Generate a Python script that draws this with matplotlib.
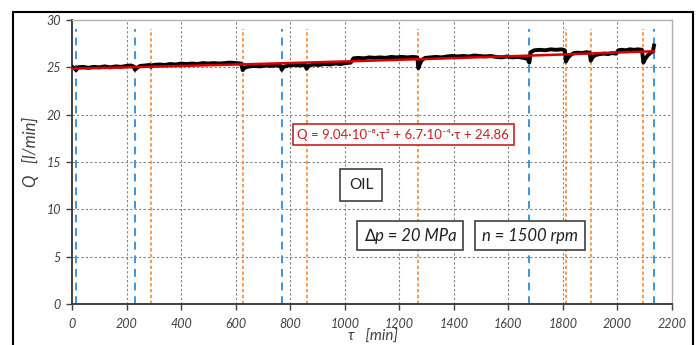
import numpy as np
import matplotlib.pyplot as plt
from matplotlib.patches import Rectangle

# measured flow rate Q [l/min] vs time tau [min]
tau_meas = [0, 8, 15, 22, 40, 60, 80, 100, 120, 140, 160, 180, 200, 215, 225, 231, 238,
            250, 270, 285, 290, 298, 320, 340, 360, 380, 400, 420, 440, 460, 480, 500, 520,
            540, 560, 580, 600, 620,
            626, 632, 650, 670, 690, 710, 730, 750, 765, 769, 776, 795, 815, 835, 855, 860,
            867, 885, 905, 925, 945, 965, 985, 1005, 1022,
            1032, 1050, 1070, 1090, 1110, 1130, 1150, 1170, 1190, 1210, 1230, 1250, 1266,
            1270, 1276, 1284, 1295, 1315, 1335, 1355, 1375, 1395, 1415, 1435, 1455, 1475,
            1495, 1515, 1535, 1555, 1575, 1595, 1615, 1635, 1655, 1670, 1677,
            1682, 1695, 1715, 1735, 1755, 1775, 1795, 1807,
            1811, 1818, 1828, 1840, 1855, 1870, 1885, 1898,
            1902, 1910, 1920, 1935, 1950, 1965, 1980, 1995,
            2003, 2015, 2030, 2045, 2060, 2075, 2090,
            2095, 2102, 2112, 2122, 2130, 2134]
q_meas = [25.05, 24.95, 24.7, 25.0, 25.05, 24.95, 25.05, 25.0, 25.1, 25.0, 25.1, 25.05, 25.15, 25.2, 25.1, 24.75, 24.95,
          25.15, 25.2, 25.25, 25.05, 25.25, 25.3, 25.25, 25.35, 25.3, 25.4, 25.35, 25.4, 25.35, 25.45, 25.4, 25.45,
          25.4, 25.45, 25.5, 25.45, 25.4,
          24.7, 24.95, 25.1, 25.15, 25.1, 25.2, 25.15, 25.2, 25.15, 24.75, 25.05, 25.2, 25.25, 25.2, 25.25, 24.85,
          25.15, 25.3, 25.25, 25.35, 25.3, 25.4, 25.35, 25.45, 25.5,
          25.95, 26.0, 25.95, 26.05, 26.0, 26.05, 26.0, 26.1, 26.05, 26.1, 26.05, 26.1, 26.05,
          24.9, 25.4, 25.8, 26.0, 26.05, 26.1, 26.05, 26.15, 26.2, 26.15, 26.2, 26.15, 26.25,
          26.2, 26.15, 26.2, 26.1, 26.05, 26.15, 26.05, 26.1, 26.0, 25.9, 25.5,
          26.6, 26.8, 26.85, 26.8, 26.9, 26.85, 26.9, 26.8,
          25.6, 26.0, 26.3, 26.5, 26.55, 26.5, 26.6, 26.55,
          25.7, 26.1, 26.3, 26.4, 26.45, 26.4, 26.5, 26.45,
          26.8, 26.85, 26.8, 26.9, 26.85, 26.9, 26.85,
          25.5, 25.9, 26.3, 26.55, 26.7, 27.3]

# regression Q = a*tau^2 + b*tau + c
fit_coef = [9.04e-8, 6.7e-4, 24.86]
fit_end = 2134

# event markers
blue_events = [15, 231, 769, 1677, 2134]
orange_events = [290, 626, 860, 1270, 1811, 1902, 2095]

x_ticks = [0, 200, 400, 600, 800, 1000, 1200, 1400, 1600, 1800, 2000, 2200]
y_ticks = [0, 5, 10, 15, 20, 25, 30]

plt.rcParams['font.family'] = ['Lato', 'DejaVu Sans']
txt_col = '#404040'

fig = plt.figure(figsize=(7.0, 3.45), dpi=100)
ax = fig.add_axes([72 / 700, 41 / 345, 600 / 700, 284 / 345])

for x in x_ticks[1:-1]:
    ax.axvline(x, color='#808080', lw=0.8, ls=(0, (2, 2)), zorder=1)
for y in y_ticks[1:-1]:
    ax.axhline(y, color='#808080', lw=0.8, ls=(0, (2, 2)), zorder=1)

for x in blue_events:
    ax.plot([x, x], [0, 29], color='#3d95dc', lw=1.4, ls=(0, (4, 3)), zorder=2)
for x in orange_events:
    ax.plot([x, x], [0, 29], color='#f08a3a', lw=1.2, ls=(0, (2, 1.5)), zorder=2)

ax.plot(tau_meas, q_meas, color='black', lw=2.8, zorder=3)
tt = np.linspace(0, fit_end, 300)
ax.plot(tt, np.polyval(fit_coef, tt), color='#d80000', lw=1.8, zorder=4)

ax.set_xlim(0, 2200)
ax.set_ylim(0, 30)
ax.set_xticks(x_ticks)
ax.set_yticks(y_ticks)
ax.tick_params(direction='out', length=4, width=1, colors=txt_col, labelsize=9)
for lab in ax.get_xticklabels() + ax.get_yticklabels():
    lab.set_fontstyle('italic')
ax.tick_params(axis='x', pad=6)
ax.tick_params(axis='y', pad=4)

for side in ['left', 'bottom']:
    ax.spines[side].set_color('#404040')
    ax.spines[side].set_linewidth(1.4)
for side in ['top', 'right']:
    ax.spines[side].set_color('#b0b0b0')
    ax.spines[side].set_linewidth(1.0)

fig.text(30 / 700, (345 - 152) / 345, 'Q   [l/min]', rotation=90, ha='center', va='center',
         fontsize=12, style='italic', color=txt_col)
fig.text(373 / 700, 1 / 345, 'τ   [min]', ha='center', va='bottom',
         fontsize=11, style='italic', color=txt_col)

ax.text(1214, 17.9, 'Q = 9.04·10⁻⁸·τ² + 6.7·10⁻⁴·τ + 24.86', ha='center', va='center',
        fontsize=9.5, color='#c82020', zorder=5,
        bbox=dict(boxstyle='square,pad=0.35', fc='white', ec='#c82020', lw=1.2))
ax.text(1060, 12.6, 'OIL', ha='center', va='center', fontsize=11, color='#202020', zorder=5,
        bbox=dict(boxstyle='square,pad=0.6', fc='white', ec='#404040', lw=1.2))
ax.text(1239, 7.23, '∆p = 20 MPa', ha='center', va='center', fontsize=12, style='italic',
        color='#202020', zorder=5,
        bbox=dict(boxstyle='square,pad=0.4', fc='white', ec='#404040', lw=1.2))
ax.text(1679, 7.23, 'n = 1500 rpm', ha='center', va='center', fontsize=12, style='italic',
        color='#202020', zorder=5,
        bbox=dict(boxstyle='square,pad=0.4', fc='white', ec='#404040', lw=1.2))

fig.patches.append(Rectangle((13 / 700, -0.1), 680 / 700, (333 / 345) + 0.1,
                             transform=fig.transFigure, fill=False, ec='black', lw=1.5))

fig.savefig('out.png', dpi=100)
